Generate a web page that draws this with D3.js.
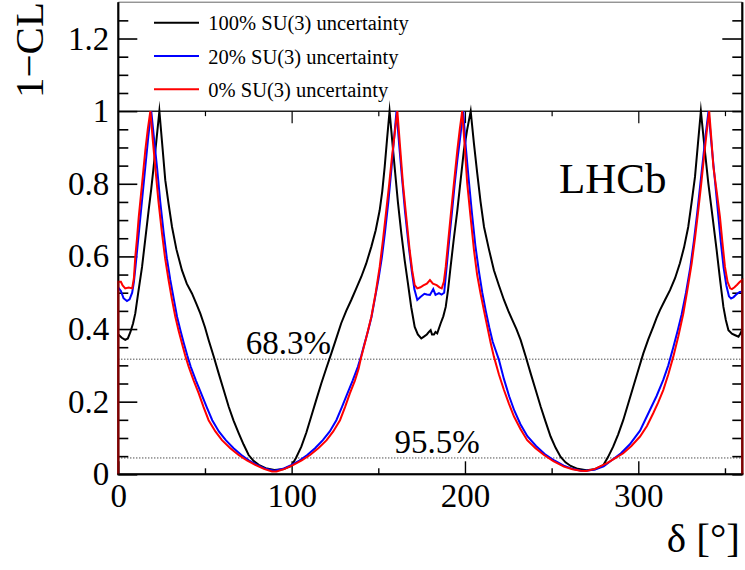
<!DOCTYPE html>
<html>
<head>
<meta charset="utf-8">
<script src="https://cdn.jsdelivr.net/npm/d3@7"></script>
<style>
  body { margin: 0; background: #fff; }
  svg { display: block; }
  text { font-family: "Liberation Serif", "Times New Roman", serif; fill: #000; }
</style>
</head>
<body>
<svg id="chart" width="745" height="570"></svg>
<script>
// 1-CL scans versus the strong phase delta [deg]
// each entry: [delta, 1-CL]
const uncert100 = [[0,0.385],[2,0.376],[4,0.370],[5.5,0.374],[7,0.392],[8.5,0.415],[9.8,0.443],[11.5,0.50],[13.7,0.571],[15.5,0.645],[17.5,0.727],[19,0.785],[20.4,0.847],[22,0.92],[23.7,1.0],[25.5,0.90],[27.1,0.810],[29,0.745],[31,0.681],[33.5,0.62],[36.7,0.562],[39.5,0.525],[42.5,0.498],[45,0.47],[47.3,0.443],[50,0.405],[52.1,0.370],[55,0.325],[57.9,0.278],[60.8,0.232],[63.7,0.186],[66.5,0.148],[69.5,0.113],[72.3,0.082],[75.2,0.053],[78,0.037],[81,0.026],[85,0.017],[90,0.012],[95,0.014],[99.8,0.023],[102.5,0.045],[105.6,0.076],[108.5,0.115],[111.3,0.159],[114.2,0.205],[117.1,0.250],[120,0.292],[122.9,0.333],[125.8,0.375],[128.6,0.416],[131.5,0.450],[134.4,0.480],[137.3,0.512],[140.2,0.544],[143,0.58],[146,0.627],[148.5,0.672],[150.8,0.727],[152.3,0.78],[153.7,0.847],[155,0.92],[156.5,1.0],[158,0.92],[159.4,0.847],[161.3,0.75],[163.3,0.663],[165.2,0.59],[167.1,0.526],[169,0.46],[171,0.406],[172.8,0.385],[174.8,0.374],[176.3,0.379],[178,0.385],[179.2,0.392],[180.2,0.397],[181,0.385],[182.1,0.385],[183,0.392],[184,0.388],[186,0.416],[187.5,0.435],[188.9,0.461],[190.3,0.51],[191.7,0.571],[193.6,0.65],[195.6,0.727],[197.5,0.81],[199.4,0.893],[201.3,0.95],[203.3,1.0],[205.2,0.91],[207.1,0.828],[209,0.75],[211,0.681],[213.8,0.62],[216.7,0.562],[219.6,0.52],[222.5,0.480],[225,0.45],[227.3,0.425],[229.7,0.40],[232.1,0.370],[235,0.325],[237.9,0.278],[240.8,0.232],[243.7,0.186],[246.5,0.145],[249.4,0.104],[252.3,0.073],[255.2,0.048],[258,0.033],[261,0.023],[265,0.015],[270,0.011],[275,0.014],[279.8,0.025],[282.6,0.048],[285.5,0.076],[288.4,0.11],[291.3,0.149],[294.2,0.195],[297.1,0.241],[300,0.287],[302.9,0.333],[305.8,0.372],[308.6,0.406],[310.5,0.43],[312.5,0.452],[315.4,0.48],[318.3,0.507],[321.2,0.54],[324,0.581],[326.4,0.625],[328.8,0.681],[330.8,0.75],[332.7,0.819],[334.4,0.91],[336.1,1.0],[338.2,0.90],[340.4,0.801],[342.8,0.71],[345.2,0.617],[347.2,0.535],[349.1,0.461],[350.5,0.425],[352,0.397],[354,0.387],[355.9,0.383],[357.8,0.379],[359,0.388],[360,0.40]];

const uncert20 = [[0,0.514],[1.5,0.505],[3,0.485],[5,0.477],[6.5,0.482],[8,0.50],[9,0.53],[10,0.575],[11.8,0.663],[13.7,0.755],[15.6,0.847],[17.3,0.93],[19,1.0],[20.5,0.93],[22.3,0.847],[24.2,0.75],[26.2,0.664],[28,0.595],[30,0.535],[32,0.483],[33.9,0.434],[35.9,0.395],[37.8,0.361],[39.8,0.327],[41.8,0.296],[44.8,0.258],[47.8,0.223],[51,0.185],[54.2,0.149],[58,0.118],[62,0.094],[66.5,0.072],[71,0.053],[75.5,0.038],[80,0.026],[85,0.015],[90,0.010],[95,0.015],[100,0.026],[104.5,0.038],[109,0.053],[113.5,0.072],[118,0.094],[122,0.118],[125.8,0.149],[129,0.185],[132.2,0.223],[135.2,0.258],[138.2,0.296],[140.2,0.327],[142.1,0.361],[144.1,0.395],[146.1,0.434],[148,0.483],[150,0.535],[152,0.595],[153.8,0.664],[155.8,0.75],[157.7,0.847],[159.2,0.93],[160.5,1.0],[162,0.91],[163.6,0.82],[165.5,0.72],[167.5,0.63],[169.3,0.56],[170.8,0.51],[172.5,0.480],[174.3,0.488],[176.6,0.497],[178,0.495],[179.8,0.494],[181.7,0.510],[183,0.494],[185,0.499],[186.5,0.495],[188,0.50],[189.8,0.590],[191.2,0.66],[192.6,0.727],[194.1,0.80],[195.6,0.865],[197.3,0.93],[199,1.0],[200.5,0.90],[202,0.82],[204,0.72],[206,0.63],[208,0.56],[210,0.50],[212,0.45],[214,0.405],[216,0.365],[219.6,0.315],[222.5,0.262],[225.5,0.215],[228.5,0.175],[232,0.138],[236,0.105],[241,0.078],[246,0.056],[251.5,0.038],[257,0.024],[262,0.015],[267,0.010],[270,0.010],[275,0.013],[280,0.022],[285,0.040],[290,0.058],[295,0.082],[301,0.12],[306.7,0.177],[310.5,0.215],[314.4,0.26],[317.3,0.30],[320.2,0.35],[322.7,0.395],[325,0.44],[327.5,0.50],[330,0.57],[332,0.64],[334,0.72],[335.8,0.80],[337.4,0.87],[339,0.94],[340.5,1.0],[342,0.92],[343.8,0.83],[345.8,0.73],[347.6,0.64],[349.2,0.57],[350.8,0.52],[352.3,0.49],[353.5,0.484],[355,0.488],[356.5,0.495],[358.5,0.502],[360,0.503]];

const uncert0 = [[0,0.530],[1.5,0.530],[2.5,0.52],[4,0.512],[6,0.514],[8,0.512],[9,0.54],[9.8,0.599],[10.8,0.65],[11.8,0.709],[13.7,0.80],[15.6,0.893],[17,0.95],[18.5,1.0],[19.9,0.92],[21.3,0.847],[23.2,0.75],[25.2,0.664],[27,0.595],[29,0.535],[30.9,0.483],[32.9,0.434],[34.8,0.395],[36.7,0.361],[38.6,0.327],[40.6,0.296],[43.5,0.258],[46.4,0.223],[49.2,0.185],[52.1,0.149],[56,0.118],[59.8,0.094],[64.6,0.072],[69.4,0.053],[74.2,0.038],[79,0.026],[84,0.015],[88.7,0.008],[91.3,0.008],[96,0.015],[101,0.026],[105.8,0.038],[110.6,0.053],[115.4,0.072],[120.2,0.094],[124,0.118],[127.9,0.149],[130.8,0.185],[133.6,0.223],[136.5,0.258],[138.6,0.29],[140.2,0.324],[143,0.375],[146,0.434],[148.5,0.50],[150.8,0.571],[152.8,0.65],[154.6,0.727],[156.3,0.80],[157.9,0.874],[159.5,0.94],[161,1.0],[162.6,0.90],[164.2,0.801],[166.1,0.71],[168.1,0.617],[169.6,0.56],[171,0.521],[172.5,0.512],[174.3,0.515],[176,0.52],[178,0.525],[179.8,0.535],[181.5,0.525],[183.7,0.521],[185.3,0.515],[186.6,0.512],[187.8,0.53],[188.9,0.571],[190.3,0.64],[191.7,0.709],[193.6,0.80],[195.6,0.893],[197,0.95],[198.4,1.0],[199.9,0.90],[201.3,0.801],[203.2,0.71],[205.2,0.617],[207,0.55],[209,0.498],[211,0.45],[212.9,0.406],[214.8,0.362],[216.7,0.324],[219.6,0.275],[222.5,0.232],[225.4,0.194],[228.3,0.159],[232,0.125],[235.9,0.094],[240.7,0.072],[245.6,0.053],[251,0.036],[257.1,0.021],[262,0.014],[266.7,0.010],[270,0.009],[275,0.015],[281.7,0.030],[286.5,0.044],[291.3,0.058],[296,0.078],[301,0.104],[305,0.133],[308.6,0.168],[311.5,0.198],[314.4,0.232],[317.3,0.275],[320.2,0.324],[323.1,0.38],[326,0.443],[328.4,0.51],[330.8,0.581],[332.7,0.65],[334.6,0.727],[336.3,0.80],[337.9,0.874],[339.4,0.94],[340.9,1.0],[342.2,0.92],[343.3,0.847],[345.2,0.78],[347.1,0.709],[348.5,0.64],[350,0.571],[351.5,0.53],[353,0.512],[354,0.510],[355.5,0.515],[357,0.522],[358.6,0.530],[360,0.535]];

const seriesNames = ["100% SU(3) uncertainty", "20% SU(3) uncertainty", "0% SU(3) uncertainty"];
const seriesColors = ["#000000", "#0000ff", "#ff0000"];

// confidence-level reference lines
const clValues = [0.317, 0.045];
const clLabels = ["68.3%", "95.5%"];
const clLabelDelta = [73.5, 159.4];

const xMajorTicks = [0, 100, 200, 300];
const xMinorTicks = [50, 150, 250, 350];
const yMajorTicks = [0, 0.2, 0.4, 0.6, 0.8, 1, 1.2];

const svg = d3.select("#chart");
const x = d3.scaleLinear().domain([0, 360]).range([118.3, 742.3]);
const y = d3.scaleLinear().domain([0, 1.3]).range([474.3, 2.2]);
const yMinorTicks = d3.range(0.05, 1.3, 0.05).map(v => +v.toFixed(2))
  .filter(v => !yMajorTicks.some(m => Math.abs(m - v) < 1e-6));

const FONT = 33;

function styleAxis(g, width) {
  g.select(".domain").remove();
  g.selectAll(".tick line").attr("stroke", "#000").attr("stroke-width", width);
  g.selectAll("text")
    .style("font-family", "'Liberation Serif','Times New Roman',serif")
    .style("font-size", FONT + "px")
    .attr("fill", "#000");
}

// ---- frame lines ----
const frame = svg.append("g").attr("class", "frame");
function drawFrame(g, opacity) {
  g.append("line").attr("x1", x(0)).attr("x2", x(0)).attr("y1", y(1.3)).attr("y2", y(0))
    .attr("stroke", "#000").attr("stroke-width", 2).attr("stroke-opacity", opacity);
  g.append("line").attr("x1", x(360)).attr("x2", x(360)).attr("y1", y(1.3)).attr("y2", y(0))
    .attr("stroke", "#000").attr("stroke-width", 2).attr("stroke-opacity", opacity);
  g.append("line").attr("x1", x(0) - 1).attr("x2", x(360) + 1).attr("y1", y(0)).attr("y2", y(0))
    .attr("stroke", "#000").attr("stroke-width", 2).attr("stroke-opacity", opacity);
}
frame.append("line").attr("x1", x(0)).attr("x2", x(360)).attr("y1", y(1.3)).attr("y2", y(1.3))
  .attr("stroke", "#666").attr("stroke-width", 1);
frame.append("line").attr("x1", x(0)).attr("x2", x(360)).attr("y1", y(1)).attr("y2", y(1))
  .attr("stroke", "#222").attr("stroke-width", 1.5);
drawFrame(frame, 1);

// ---- axes ----
const gLeft = svg.append("g").attr("transform", `translate(${x(0)},0)`)
  .call(d3.axisLeft(y).tickValues(yMajorTicks).tickSize(-19).tickPadding(9).tickFormat(d3.format("~g")));
styleAxis(gLeft, 1.6);
const gLeftMinor = svg.append("g").attr("transform", `translate(${x(0)},0)`)
  .call(d3.axisLeft(y).tickValues(yMinorTicks).tickSize(-10).tickFormat(""));
styleAxis(gLeftMinor, 1.6);

const gRightLow = svg.append("g").attr("transform", `translate(${x(360)},0)`)
  .call(d3.axisRight(y).tickValues(yMajorTicks.concat(yMinorTicks).filter(v => v < 1.01)).tickSize(-10).tickFormat(""));
styleAxis(gRightLow, 1.6);
const gRightHighMajor = svg.append("g").attr("transform", `translate(${x(360)},0)`)
  .call(d3.axisRight(y).tickValues(yMajorTicks.filter(v => v > 1.01)).tickSize(-20).tickFormat(""));
styleAxis(gRightHighMajor, 1.6);
const gRightHighMinor = svg.append("g").attr("transform", `translate(${x(360)},0)`)
  .call(d3.axisRight(y).tickValues(yMinorTicks.filter(v => v > 1.01)).tickSize(-10).tickFormat(""));
styleAxis(gRightHighMinor, 1.6);

const gBottom = svg.append("g").attr("transform", `translate(0,${y(0)})`)
  .call(d3.axisBottom(x).tickValues(xMajorTicks).tickSize(-13).tickPadding(9).tickFormat(d3.format("d")));
styleAxis(gBottom, 1.4);
const gBottomMinor = svg.append("g").attr("transform", `translate(0,${y(0)})`)
  .call(d3.axisBottom(x).tickValues(xMinorTicks).tickSize(-6).tickFormat(""));
styleAxis(gBottomMinor, 1.4);

const gTop = svg.append("g").attr("transform", `translate(0,${y(1)})`)
  .call(d3.axisTop(x).tickValues(xMajorTicks.filter(v => v > 0)).tickSize(-12).tickFormat(""));
styleAxis(gTop, 1.2);
const gTopMinor = svg.append("g").attr("transform", `translate(0,${y(1)})`)
  .call(d3.axisTop(x).tickValues(xMinorTicks).tickSize(-5).tickFormat(""));
styleAxis(gTopMinor, 1.2);

// ---- confidence-level lines ----
const cl = svg.append("g");
clValues.forEach((v, i) => {
  cl.append("line").attr("x1", x(0)).attr("x2", x(360)).attr("y1", y(v)).attr("y2", y(v))
    .attr("stroke", "#000").attr("stroke-width", 1).attr("stroke-dasharray", "1,2");
  cl.append("text").attr("x", x(clLabelDelta[i])).attr("y", y(v) - 5)
    .style("font-size", FONT + "px").text(clLabels[i]);
});

// ---- curves ----
const line = d3.line().x(d => x(d[0])).y(d => y(d[1]));
const curves = svg.append("g").attr("fill", "none").attr("stroke-width", 2);
curves.append("path").datum(uncert100).attr("d", line)
  .attr("stroke", seriesColors[0]).attr("stroke-miterlimit", 12);
curves.append("path").datum(uncert20).attr("d", line)
  .attr("stroke", seriesColors[1]).attr("stroke-miterlimit", 4);
// the 0% scan is drawn as a histogram outline closed down to zero at both edges
curves.append("path").datum([[0, 0]].concat(uncert0, [[360, 0]])).attr("d", line)
  .attr("stroke", seriesColors[2]).attr("stroke-miterlimit", 4);

// re-stroke the frame lightly so the axis tint shows through the curve edges
drawFrame(svg.append("g"), 0.5);

// ---- legend ----
const legend = svg.append("g");
const legendY = [22.7, 56, 89.3];
seriesNames.forEach((name, i) => {
  legend.append("line").attr("x1", 154).attr("x2", 199).attr("y1", legendY[i]).attr("y2", legendY[i])
    .attr("stroke", seriesColors[i]).attr("stroke-width", 2);
  legend.append("text").attr("x", 208.3).attr("y", legendY[i] + 7.6)
    .style("font-size", "20.5px").text(name);
});

// ---- titles ----
svg.append("text").attr("x", 559).attr("y", 192.7).style("font-size", "43px").text("LHCb");
svg.append("text").attr("transform", "translate(43,2) rotate(-90)")
  .attr("text-anchor", "end").style("font-size", "41px").text("1\u2212CL");
svg.append("text").attr("x", 740).attr("y", 551.7).attr("text-anchor", "end")
  .style("font-size", "41px").text("\u03b4 [\u00b0]");
</script>
</body>
</html>
